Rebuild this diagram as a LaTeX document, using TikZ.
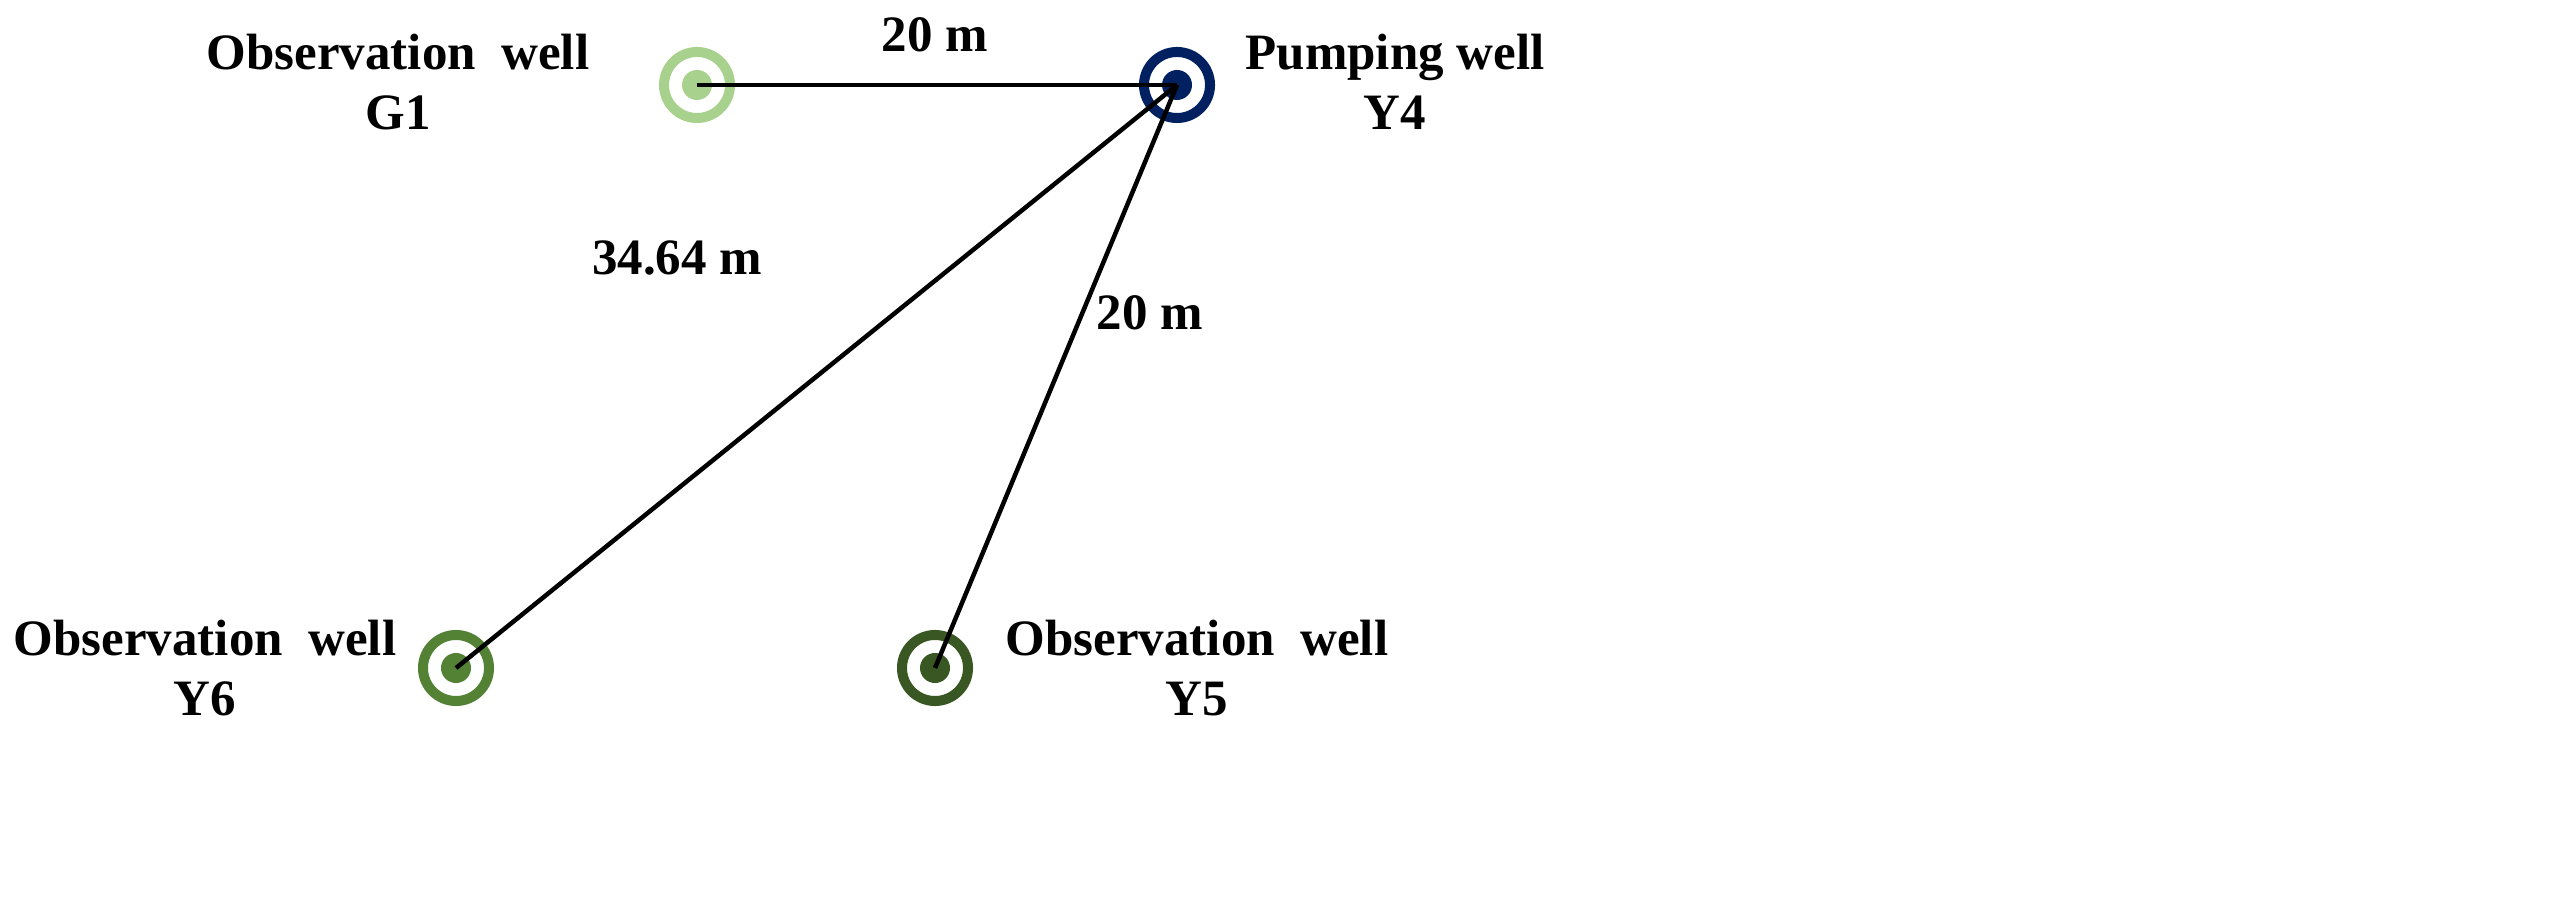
\documentclass[tikz,border=0pt]{standalone}
\usepackage{fontspec}
\setmainfont{Liberation Serif}
\definecolor{cG}{HTML}{A9D18E}
\definecolor{cY4}{HTML}{002060}
\definecolor{cY6}{HTML}{548235}
\definecolor{cY5}{HTML}{385723}
\tikzset{lbl/.style={font=\fontsize{14.5pt}{17pt}\selectfont\bfseries, align=center, inner sep=0pt},
  ring/.style={draw=#1, line width=0.1cm, circle, minimum size=0.66cm, fill=white, inner sep=0pt},
  dot/.style={fill=#1, circle, minimum size=0.3cm, inner sep=0pt},
  link/.style={line width=0.045cm, black}}
\begin{document}
\begin{tikzpicture}[x=0.01cm,y=-0.01cm]
\useasboundingbox (0,0) rectangle (2557,910);
\node[ring=cG] (g1r) at (697,85) {};
\node[ring=cY4] (y4r) at (1177,85) {};
\node[ring=cY6] (y6r) at (456,668) {};
\node[ring=cY5] (y5r) at (935,668) {};
\node[dot=cG] (g1) at (697,85) {};
\node[dot=cY4] (y4) at (1177,85) {};
\node[dot=cY6] (y6) at (456,668) {};
\node[dot=cY5] (y5) at (935,668) {};
\draw[link] (g1.center) -- (y4.center);
\draw[link] (y4.center) -- (y6.center);
\draw[link] (y4.center) -- (y5.center);
\node[lbl] (tg1) at (398,82) {Observation\ \ well\\G1};
\node[lbl] (ty4) at (1395,82) {Pumping well\\Y4};
\node[lbl] (ty6) at (205,668) {Observation\ \ well\\Y6};
\node[lbl] (ty5) at (1197,668) {Observation\ \ well\\Y5};
\node[lbl] (d1) at (935,35) {20 m};
\node[lbl] (d2) at (677,258) {34.64 m};
\node[lbl] (d3) at (1150,313) {20 m};
\end{tikzpicture}
\end{document}
